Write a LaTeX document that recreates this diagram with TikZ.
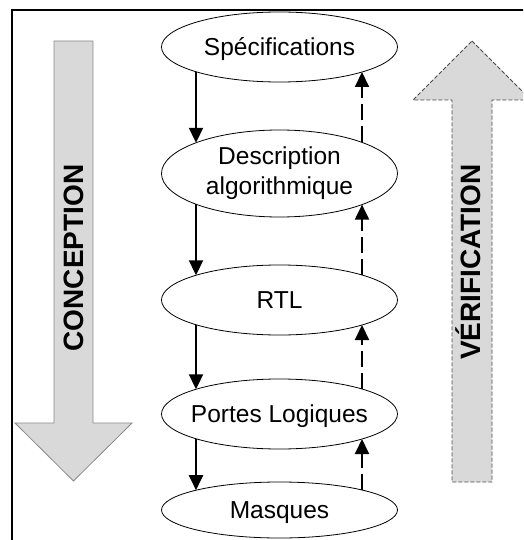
\documentclass[tikz,border=0pt]{standalone}
\usepackage{fontspec}
\setmainfont{Liberation Sans}
\usetikzlibrary{arrows.meta,shapes.geometric}
\definecolor{bandfill}{HTML}{D9D9D9}
\definecolor{bandedge}{HTML}{8A8A8A}
\definecolor{bandedgedark}{HTML}{4A4A4A}
\newcommand{\flatlabel}[1]{\makebox[0pt]{#1}}
\begin{document}
\begin{tikzpicture}[x=1pt,y=-1pt,
  stage/.style={ellipse,draw,line width=0.8pt,fill=white,minimum width=236pt,
    inner sep=0pt,outer sep=0pt,font=\fontsize{24.5}{29.5}\selectfont},
  oneline/.style={stage,text height=17.5pt,text depth=0pt},
  flow/.style={line width=2pt,-{Triangle[length=15pt,width=14pt]}},
  check/.style={line width=2pt,dash pattern=on 16pt off 6pt,-{Triangle[length=15pt,width=14pt]}},
  bandtext/.style={rotate=90,font=\fontsize{28}{30}\selectfont\bfseries,
    text height=20pt,text depth=0pt,inner sep=0pt}]
\useasboundingbox (0,0) rectangle (523,540);
\clip (0,0) rectangle (523,540);

% outer frame (top and left edges)
\draw[line width=2pt] (12,545) -- (12,10) -- (530,10);

% design direction: downward band
\draw[bandedge,fill=bandfill,line width=0.8pt]
  (54,41) -- (93,41) -- (93,423) -- (132,423) -- (73.5,481) -- (15,423) -- (54,423) -- cycle;
\node[bandtext] (conception) at (73,258) {CONCEPTION};

% verification direction: upward band
\draw[bandedgedark,fill=bandfill,line width=0.8pt,dash pattern=on 4pt off 2pt]
  (472,41) -- (531,100) -- (492,100) -- (492,482) -- (452,482) -- (452,100) -- (413,100) -- cycle;
\node[bandtext] (verification) at (470,262) {VÉRIFICATION};

% design levels
\node[oneline,minimum height=70pt] (spec) at (279.5,47) {\flatlabel{Spécifications}};
\node[stage,minimum height=87pt] (algo) at (279.5,173.5)
  {\flatlabel{\begin{tabular}{@{}c@{}}Description\\algorithmique\end{tabular}}};
\node[oneline,minimum height=70pt] (rtl) at (279.5,300) {\flatlabel{RTL}};
\node[oneline,minimum height=70pt] (gates) at (279.5,414) {\flatlabel{Portes Logiques}};
\node[oneline,minimum height=56pt] (masks) at (279.5,510) {\flatlabel{Masques}};

% refinement steps (left column, on the ellipse borders)
\draw[flow] ([xshift=-83.5pt,yshift=-24.7pt]spec.center) -- ([xshift=-83.5pt,yshift=30.7pt]algo.center);
\draw[flow] ([xshift=-83.5pt,yshift=-30.7pt]algo.center) -- ([xshift=-83.5pt,yshift=24.7pt]rtl.center);
\draw[flow] ([xshift=-83.5pt,yshift=-24.7pt]rtl.center) -- ([xshift=-83.5pt,yshift=24.7pt]gates.center);
\draw[flow] ([xshift=-83.5pt,yshift=-24.7pt]gates.center) -- ([xshift=-83.5pt,yshift=19.8pt]masks.center);

% verification steps (right column, on the ellipse borders)
\draw[check] ([xshift=82.5pt,yshift=31.1pt]algo.center) -- ([xshift=82.5pt,yshift=-25pt]spec.center);
\draw[check] ([xshift=82.5pt,yshift=25pt]rtl.center) -- ([xshift=82.5pt,yshift=-31.1pt]algo.center);
\draw[check] ([xshift=82.5pt,yshift=25pt]gates.center) -- ([xshift=82.5pt,yshift=-25pt]rtl.center);
\draw[check] ([xshift=82.5pt,yshift=20pt]masks.center) -- ([xshift=82.5pt,yshift=-25pt]gates.center);
\end{tikzpicture}
\end{document}
